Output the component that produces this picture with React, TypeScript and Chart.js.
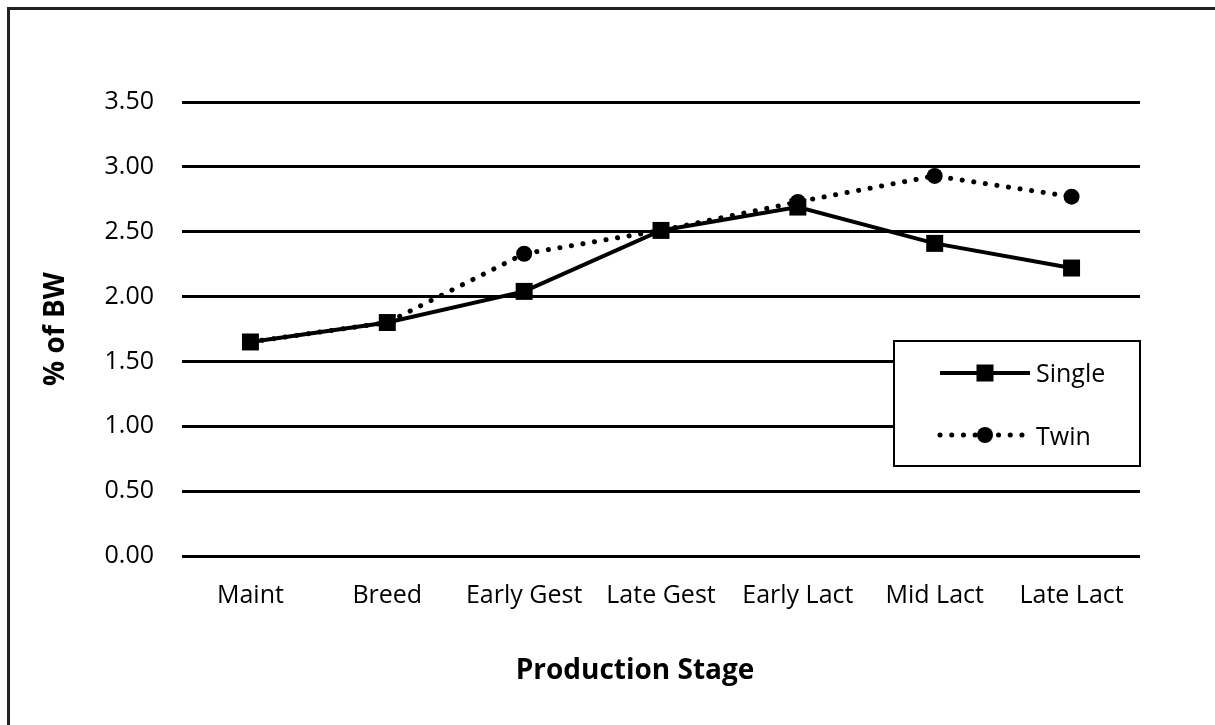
import React, { useEffect, useRef } from "react";
import { Chart, registerables } from "chart.js";

Chart.register(...registerables);

const categories = ["Maint", "Breed", "Early Gest", "Late Gest", "Early Lact", "Mid Lact", "Late Lact"];
const singleValues = [1.65, 1.8, 2.04, 2.51, 2.69, 2.41, 2.22];
const twinValues = [1.65, 1.8, 2.33, 2.51, 2.73, 2.93, 2.77];
const seriesNames = ["Single", "Twin"];
const yTitle = "% of BW";
const xTitle = "Production Stage";

const FONT = "'Open Sans', 'Noto Sans', sans-serif";

const framePlugin = {
  id: "frame",
  beforeDraw(chart: any) {
    const ctx = chart.ctx;
    ctx.save();
    ctx.fillStyle = "#ffffff";
    ctx.fillRect(0, 0, chart.width, chart.height);
    ctx.fillStyle = "#222";
    ctx.fillRect(7, 7, 3, chart.height);
    ctx.fillRect(7, 7, chart.width, 3);
    ctx.restore();
  },
};

const xTitlePlugin = {
  id: "xTitleCustom",
  afterDraw(chart: any) {
    const ctx = chart.ctx;
    const area = chart.chartArea;
    ctx.save();
    ctx.fillStyle = "#000";
    ctx.font = `bold 28px ${FONT}`;
    ctx.textAlign = "center";
    ctx.textBaseline = "middle";
    ctx.fillText(xTitle, (area.left + area.right) / 2 - 26, area.bottom + 115);
    ctx.restore();
  },
};

const legendPlugin = {
  id: "customLegend",
  afterDraw(chart: any) {
    const ctx = chart.ctx;
    const area = chart.chartArea;
    const x1 = area.right - 246;
    const y1 = area.top + 239;
    const w = 246;
    const h = 125;
    ctx.save();
    ctx.fillStyle = "#fff";
    ctx.fillRect(x1, y1, w, h);
    ctx.strokeStyle = "#000";
    ctx.lineWidth = 2;
    ctx.strokeRect(x1, y1, w, h);

    const lx0 = x1 + 46;
    const lx1 = x1 + 136;
    const mx = (lx0 + lx1) / 2;
    // Single
    const ys = y1 + 32;
    ctx.lineWidth = 4;
    ctx.setLineDash([]);
    ctx.beginPath();
    ctx.moveTo(lx0, ys);
    ctx.lineTo(lx1, ys);
    ctx.stroke();
    ctx.fillStyle = "#000";
    ctx.fillRect(mx - 8.5, ys - 8.5, 17, 17);
    // Twin
    const yt = y1 + 94;
    ctx.lineWidth = 5;
    ctx.lineCap = "round";
    ctx.setLineDash([0.1, 11.6]);
    ctx.beginPath();
    ctx.moveTo(lx0, yt);
    ctx.lineTo(lx1, yt);
    ctx.stroke();
    ctx.setLineDash([]);
    ctx.beginPath();
    ctx.arc(mx, yt, 8, 0, Math.PI * 2);
    ctx.fill();

    ctx.font = `25px ${FONT}`;
    ctx.textBaseline = "middle";
    ctx.textAlign = "left";
    ctx.fillText(seriesNames[0], lx1 + 6, ys + 2);
    ctx.fillText(seriesNames[1], lx1 + 6, yt + 3);
    ctx.restore();
  },
};

export default function App() {
  const ref = useRef<HTMLCanvasElement | null>(null);
  useEffect(() => {
    if (!ref.current) return;
    const chart = new Chart(ref.current, {
      type: "line",
      data: {
        labels: categories,
        datasets: [
          {
            label: seriesNames[0],
            data: singleValues,
            borderColor: "#000",
            backgroundColor: "#000",
            borderWidth: 4,
            pointStyle: "rect",
            pointRadius: 12,
            pointBorderWidth: 0,
            tension: 0,
          },
          {
            label: seriesNames[1],
            data: twinValues,
            borderColor: "#000",
            backgroundColor: "#000",
            borderWidth: 5,
            borderDash: [0.1, 11.6],
            borderCapStyle: "round",
            pointStyle: "circle",
            pointRadius: 8,
            pointBorderWidth: 0,
            tension: 0,
          },
        ],
      },
      options: {
        animation: false,
        responsive: false,
        layout: { padding: { top: 102, right: 75, left: 0, bottom: 0 } },
        plugins: { legend: { display: false }, tooltip: { enabled: false } },
        scales: {
          x: {
            offset: true,
            grid: { display: false, drawTicks: false },
            border: { display: false },
            ticks: { color: "#000", font: { family: FONT, size: 25 }, padding: 25, maxRotation: 0, autoSkip: false },
            title: { display: false, text: xTitle },
            afterFit: (s: any) => {
              s.height = 169;
            },
          },
          y: {
            min: 0,
            max: 3.5,
            ticks: {
              stepSize: 0.5,
              color: "#000",
              font: { family: FONT, size: 25 },
              padding: 28,
              callback: (v: any) => Number(v).toFixed(2),
            },
            grid: { color: "#000", lineWidth: 3, drawTicks: false },
            border: { display: false },
            title: {
              display: true,
              text: yTitle,
              color: "#000",
              font: { family: FONT, size: 28, weight: "bold" },
              padding: { top: 39, bottom: 0 },
            },
            afterFit: (s: any) => {
              s.width = 182;
            },
          },
        },
      },
      plugins: [framePlugin, legendPlugin, xTitlePlugin],
    });
    return () => chart.destroy();
  }, []);
  return (
    <div style={{ position: "fixed", left: 0, top: 0, width: 1215, height: 725 }}>
      <canvas ref={ref} width={1215} height={725} style={{ display: "block" }} />
    </div>
  );
}
